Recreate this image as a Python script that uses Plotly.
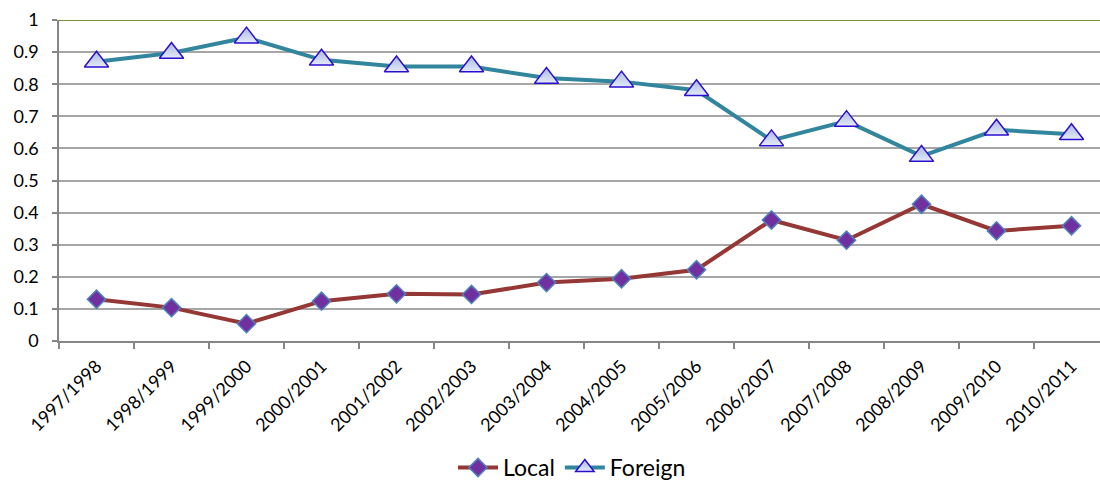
import plotly.graph_objects as go

# Academic years on the category axis
years = ["1997/1998", "1998/1999", "1999/2000", "2000/2001", "2001/2002",
         "2002/2003", "2003/2004", "2004/2005", "2005/2006", "2006/2007",
         "2007/2008", "2008/2009", "2009/2010", "2010/2011"]

# Shares per year
local = [0.130, 0.104, 0.054, 0.124, 0.147, 0.145, 0.182, 0.194, 0.222,
         0.377, 0.314, 0.426, 0.343, 0.359]
foreign = [0.870, 0.897, 0.945, 0.876, 0.855, 0.855, 0.819, 0.808, 0.781,
           0.625, 0.685, 0.576, 0.658, 0.644]

y_ticks = [0, 0.1, 0.2, 0.3, 0.4, 0.5, 0.6, 0.7, 0.8, 0.9, 1]

FONT = "Lato, 'Open Sans', sans-serif"

fig = go.Figure()

fig.add_trace(go.Scatter(
    x=years, y=local, name="Local", mode="lines+markers",
    line=dict(color="#953735", width=4),
    marker=dict(symbol="diamond", size=14, color="#7030A0",
                line=dict(color="#4F81BD", width=1.5)),
))

fig.add_trace(go.Scatter(
    x=years, y=foreign, name="Foreign", mode="lines+markers",
    line=dict(color="#31859C", width=4),
    marker=dict(symbol="triangle-up", size=21, color="#A9B8E0",
                gradient=dict(type="vertical", color="#E4EAF7"),
                line=dict(color="#2B0FD0", width=1.5)),
))

fig.update_layout(
    width=1100, height=482,
    margin=dict(l=59, r=0, t=20, b=141, autoexpand=False),
    paper_bgcolor="white", plot_bgcolor="white",
    font=dict(family=FONT, size=18, color="#000000"),
    showlegend=True,
    legend=dict(orientation="h", xref="container", yref="container",
                x=0.52, xanchor="center", y=0.03, yanchor="middle",
                font=dict(size=23), itemwidth=40, traceorder="normal"),
)

fig.update_xaxes(
    type="category", range=[-0.5, 13.38], automargin=False,
    tickangle=-45, tickson="boundaries", ticks="outside", ticklen=6,
    tickcolor="#868686", tickwidth=1.5, ticklabelstandoff=6,
    showline=True, linecolor="#868686", linewidth=1.5,
    showgrid=False, tickfont=dict(size=18, family=FONT),
)

fig.update_yaxes(
    range=[0, 1], tickvals=y_ticks, ticktext=[f"{v:g}" for v in y_ticks],
    automargin=False,
    ticks="outside", ticklen=5, tickcolor="#868686", tickwidth=1.5,
    ticklabelstandoff=10,
    showline=True, linecolor="#868686", linewidth=1.5,
    showgrid=True, gridcolor="#A6A6A6", gridwidth=1.5,
    zeroline=False, tickfont=dict(size=18, family=FONT),
)

# Olive border along the top of the plot area
fig.add_shape(type="line", xref="paper", yref="y", x0=0, x1=1, y0=1, y1=1,
              line=dict(color="#77933C", width=2))

fig.write_html("out.html")
